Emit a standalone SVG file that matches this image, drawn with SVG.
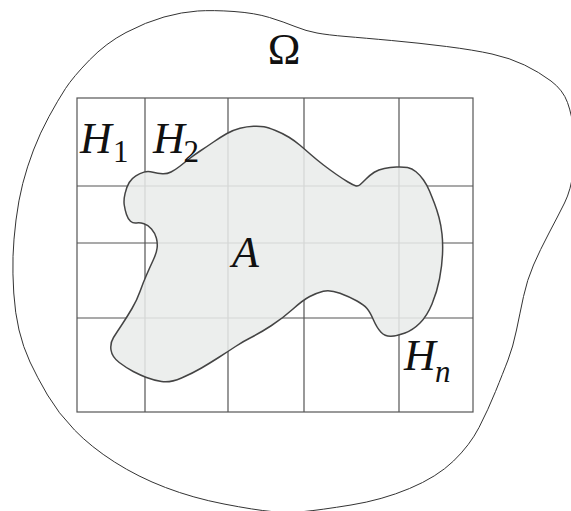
<svg xmlns="http://www.w3.org/2000/svg" width="571" height="511" viewBox="0 0 571 511">
<style>
.grid{fill:none;stroke:#555;stroke-width:1.2}
.lbl{font-family:"Liberation Serif","Times New Roman","DejaVu Serif",serif;fill:#111}
.it{font-style:italic}
</style>
<rect width="571" height="511" fill="#fff"/>
<g id="omega">
<path fill="none" stroke="#333" stroke-width="1" d="M 197.5,11 Q 213,10 234,11.5 Q 255,13 269.5,17.5 Q 284,22 295,26.5 Q 306,31 317,33 Q 328,35 346,36.5 Q 364,38 391.5,40.5 Q 419,43 446.5,46.5 Q 474,50 492,54 Q 510,58 524.5,65 Q 539,72 551,81 Q 563,90 567.5,102.5 Q 572,115 574,132.5 Q 576,150 573.5,170 Q 571,190 564.5,203 Q 558,216 549,233 Q 540,250 533.5,265 Q 527,280 523.5,296.5 Q 520,313 516.5,330 Q 513,347 508,360 Q 503,373 495.5,391.5 Q 488,410 479,427.5 Q 470,445 453.5,461 Q 437,477 409.5,488.5 Q 382,500 351,505 Q 320,510 304,511.5 Q 288,513 271.5,511.5 Q 255,510 224,504 Q 193,498 165.5,487.5 Q 138,477 114.5,462 Q 91,447 74.5,430 Q 58,413 47.5,395 Q 37,377 30,362 Q 23,347 19,330 Q 15,313 13.75,293 Q 12.5,273 13,256.5 Q 13.5,240 16,220 Q 18.5,200 22.75,183.5 Q 27,167 33.5,150 Q 40,133 49,116.5 Q 58,100 65.5,88.5 Q 73,77 89.5,60 Q 106,43 126,32.5 Q 146,22 164,17 Q 182,12 197.5,11 Z"/>
<text class="lbl" x="284" y="63.5" font-size="44" text-anchor="middle">Ω</text>
</g>
<g id="grid">
<rect class="grid" x="77" y="98" width="396" height="314"/>
<path class="grid" d="M145,98V412M228,98V412M304,98V412M399,98V412M77,186H473M77,243H473M77,318H473"/>
</g>
<g id="region-A">
<path fill="#e9ebea" fill-opacity="0.86" stroke="#444" stroke-width="1.5" d="M 124.25,205 Q 123.5,200 125.1,193.35 Q 126.7,186.7 129.2,182.5 Q 131.7,178.3 135.85,175.8 Q 140,173.3 144,172.15 Q 148,171 153,172.25 Q 158,173.5 162.5,173.75 Q 167,174 171,172 Q 175,170 179.5,166.5 Q 184,163 189,159 Q 194,155 200.5,150.75 Q 207,146.5 213.5,142 Q 220,137.5 226.5,133.75 Q 233,130 240,128.25 Q 247,126.5 253.5,126.25 Q 260,126 264,126.75 Q 268,127.5 275.5,130.5 Q 283,133.5 289,137.25 Q 295,141 300,145.25 Q 305,149.5 311,154.75 Q 317,160 323.5,165 Q 330,170 336.5,174.5 Q 343,179 348,182 Q 353,185 355.5,185.75 Q 358,186.5 360,184.75 Q 362,183 366,179 Q 370,175 374.25,172.25 Q 378.5,169.5 384.25,168.4 Q 390,167.3 396.5,167 Q 403,166.7 407.5,167.6 Q 412,168.5 416,171.75 Q 420,175 423.5,180 Q 427,185 429.5,191 Q 432,197 434.5,203.5 Q 437,210 439,217.5 Q 441,225 442,234 Q 443,243 442.5,254.5 Q 442,266 439.5,279 Q 437,292 432,304 Q 427,316 420,323 Q 413,330 405,333 Q 397,336 391,336.25 Q 385,336.5 381,332.25 Q 377,328 373.5,320 Q 370,312 367,308.5 Q 364,305 357,301 Q 350,297 340,293.25 Q 330,289.5 323.25,291.25 Q 316.5,293 309.75,296.5 Q 303,300 293,309 Q 283,318 271.5,325.5 Q 260,333 251.5,337.25 Q 243,341.5 235.5,346.5 Q 228,351.5 219,357.25 Q 210,363 201.5,368 Q 193,373 181.5,378 Q 170,383 161.5,381.5 Q 153,380 146.5,377.5 Q 140,375 133.25,371.5 Q 126.5,368 119.25,362.5 Q 112,357 111,350 Q 110,343 113.5,337.5 Q 117,332 122,324.5 Q 127,317 132,308.5 Q 137,300 140,291.5 Q 143,283 146.5,275 Q 150,267 153.25,260 Q 156.5,253 157.1,248 Q 157.7,243 156.35,238 Q 155,233 151.5,229 Q 148,225 144,223.75 Q 140,222.5 136.5,223 Q 133,223.5 130.5,221.25 Q 128,219 126.5,214.5 Q 125,210 124.25,205 Z"/>
<text class="lbl it" x="232" y="266.5" font-size="44">A</text>
</g>
<g id="labels">
<text class="lbl it" x="80" y="152.7" font-size="44">H</text>
<text class="lbl" x="113" y="161.7" font-size="31">1</text>
<text class="lbl it" x="153" y="152.7" font-size="44">H</text>
<text class="lbl" x="183.5" y="161.7" font-size="31">2</text>
<text class="lbl it" x="404" y="370" font-size="44">H</text>
<text class="lbl it" x="435" y="381.7" font-size="31">n</text>
</g>
</svg>
